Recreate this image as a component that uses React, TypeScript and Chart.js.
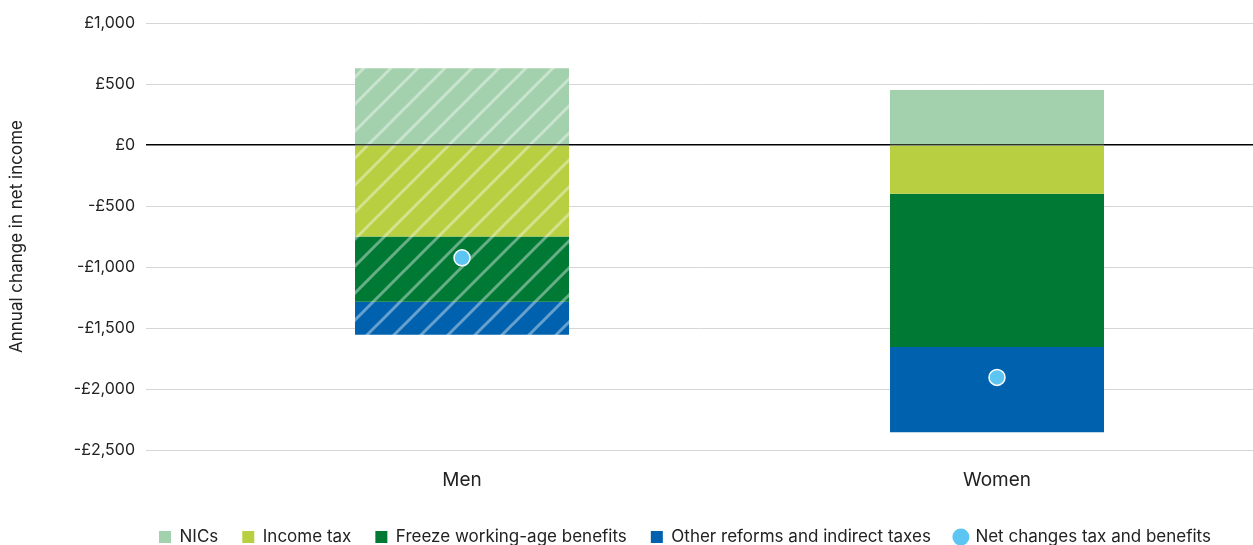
import React, { useEffect, useRef } from "react";
import { Chart, registerables } from "chart.js";

Chart.register(...registerables);

const categories = ["Men", "Women"];
const seriesLabels = [
  "NICs",
  "Income tax",
  "Freeze working-age benefits",
  "Other reforms and indirect taxes",
  "Net changes tax and benefits",
];
const nics = [630, 450];
const incomeTax = [-750, -400];
const freezeBenefits = [-535, -1255];
const otherReforms = [-270, -700];
const netChange = [-925, -1905];
const yTicks = [1000, 500, 0, -500, -1000, -1500, -2000, -2500];
const hatched = [true, false];

const colors = ["#a4d1ad", "#b8cf41", "#007934", "#0062ae", "#5dc5f1"];
const FONT = "Inter, 'Noto Sans', sans-serif";
const TEXT = "#222222";

function makeHatch(base: string): CanvasPattern | string {
  const s = 27;
  const c = document.createElement("canvas");
  c.width = s;
  c.height = s;
  const g = c.getContext("2d");
  if (!g) return base;
  g.fillStyle = base;
  g.fillRect(0, 0, s, s);
  g.strokeStyle = "rgba(255,255,255,0.4)";
  g.lineWidth = 3;
  g.beginPath();
  g.moveTo(0, s);
  g.lineTo(s, 0);
  g.moveTo(-s / 2, s / 2);
  g.lineTo(s / 2, -s / 2);
  g.moveTo(s / 2, (3 * s) / 2);
  g.lineTo((3 * s) / 2, s / 2);
  g.stroke();
  const p = g.createPattern(c, "repeat");
  return p || base;
}

function fmt(v: number): string {
  const a = Math.abs(v).toLocaleString("en-GB");
  return v < 0 ? "-£" + a : "£" + a;
}

const LEGEND_CENTER = 685;

const legendShift = {
  id: "legendShift",
  beforeLayout(chart: any) {
    const lg = chart.legend;
    if (lg && !lg.__patched) {
      const orig = lg.fit.bind(lg);
      lg.fit = function () {
        orig();
        this.height -= 10.5;
      };
      lg.__patched = true;
    }
  },
  afterLayout(chart: any) {
    const lg = chart.legend;
    if (!lg) return;
    const shift = LEGEND_CENTER - (lg.left + lg.right) / 2;
    lg.left += shift;
    lg.right += shift;
  },
};

export default function App() {
  const ref = useRef<HTMLCanvasElement | null>(null);
  useEffect(() => {
    if (!ref.current) return;
    const barSeries = [nics, incomeTax, freezeBenefits, otherReforms];
    const datasets: any[] = barSeries.map((vals, si) => {
      const pat = makeHatch(colors[si]);
      return {
        type: "bar",
        label: seriesLabels[si],
        data: categories.map((_, i) => ({ x: i, y: vals[i] })),
        backgroundColor: categories.map((_, i) => (hatched[i] ? pat : colors[si])),
        borderWidth: 0,
        stack: "a",
        order: 1,
        categoryPercentage: 1,
        barPercentage: 0.4,
      };
    });
    datasets.push({
      type: "line",
      label: seriesLabels[4],
      data: categories.map((_, i) => ({ x: i, y: netChange[i] })),
      showLine: false,
      pointRadius: 8,
      pointHoverRadius: 8,
      pointBackgroundColor: colors[4],
      pointBorderColor: "#ffffff",
      pointBorderWidth: 1.5,
      backgroundColor: colors[4],
      borderColor: colors[4],
      stack: "net",
      order: 0,
      clip: false,
    });

    const chart = new Chart(ref.current, {
      type: "bar",
      data: { datasets },
      plugins: [legendShift],
      options: {
        animation: false,
        responsive: false,
        maintainAspectRatio: false,
        devicePixelRatio: 1,
        layout: { autoPadding: false, padding: { top: 23, right: 0, left: 0, bottom: 0 } },
        plugins: {
          tooltip: { enabled: false },
          legend: {
            position: "bottom",
            fullSize: true,
            labels: {
              usePointStyle: true,
              boxWidth: 12,
              boxHeight: 12,
              padding: 24,
              color: TEXT,
              font: { family: FONT, size: 17 },
              generateLabels: (ch: any) =>
                ch.data.datasets.map((ds: any, i: number) => ({
                  text: ds.label,
                  fillStyle: colors[i],
                  strokeStyle: colors[i],
                  lineWidth: 0,
                  pointStyle: i === 4 ? "circle" : "rect",
                  datasetIndex: i,
                  hidden: !ch.isDatasetVisible(i),
                  fontColor: TEXT,
                })),
            },
          },
        },
        scales: {
          x: {
            type: "linear",
            stacked: true,
            offset: false,
            min: -0.5907,
            max: 1.4785,
            afterBuildTicks: (scale: any) => {
              scale.ticks = categories.map((_, i) => ({ value: i }));
            },
            afterFit: (scale: any) => {
              scale.height = 54.5;
              scale.paddingLeft = 0;
              scale.paddingRight = 0;
            },
            grid: { display: false, drawTicks: false },
            border: { display: false },
            ticks: {
              padding: 19,
              color: TEXT,
              font: { family: FONT, size: 19 },
              callback: (v: any) => categories[Math.round(Number(v))] ?? "",
            },
          },
          y: {
            stacked: true,
            min: -2500,
            max: 1000,
            afterBuildTicks: (scale: any) => {
              scale.ticks = yTicks.map((v) => ({ value: v }));
            },
            afterFit: (scale: any) => {
              scale.width = 146;
            },
            border: { display: false },
            grid: {
              drawTicks: false,
              color: (ctx: any) => (ctx.tick && ctx.tick.value === 0 ? "#000000" : "#d6d6d6"),
              lineWidth: (ctx: any) => (ctx.tick && ctx.tick.value === 0 ? 1.5 : 1),
            },
            ticks: {
              padding: 11,
              color: TEXT,
              font: { family: FONT, size: 16 },
              callback: (v: any) => fmt(Number(v)),
            },
            title: {
              display: true,
              text: "Annual change in net income",
              color: TEXT,
              font: { family: FONT, size: 17 },
              padding: { top: 7, bottom: 4 },
            },
          },
        },
      } as any,
    });
    return () => chart.destroy();
  }, []);

  return (
    <div style={{ position: "fixed", left: 0, top: 0, width: 1253, height: 545 }}>
      <canvas ref={ref} width={1253} height={545} style={{ width: 1253, height: 545, display: "block" }} />
    </div>
  );
}
